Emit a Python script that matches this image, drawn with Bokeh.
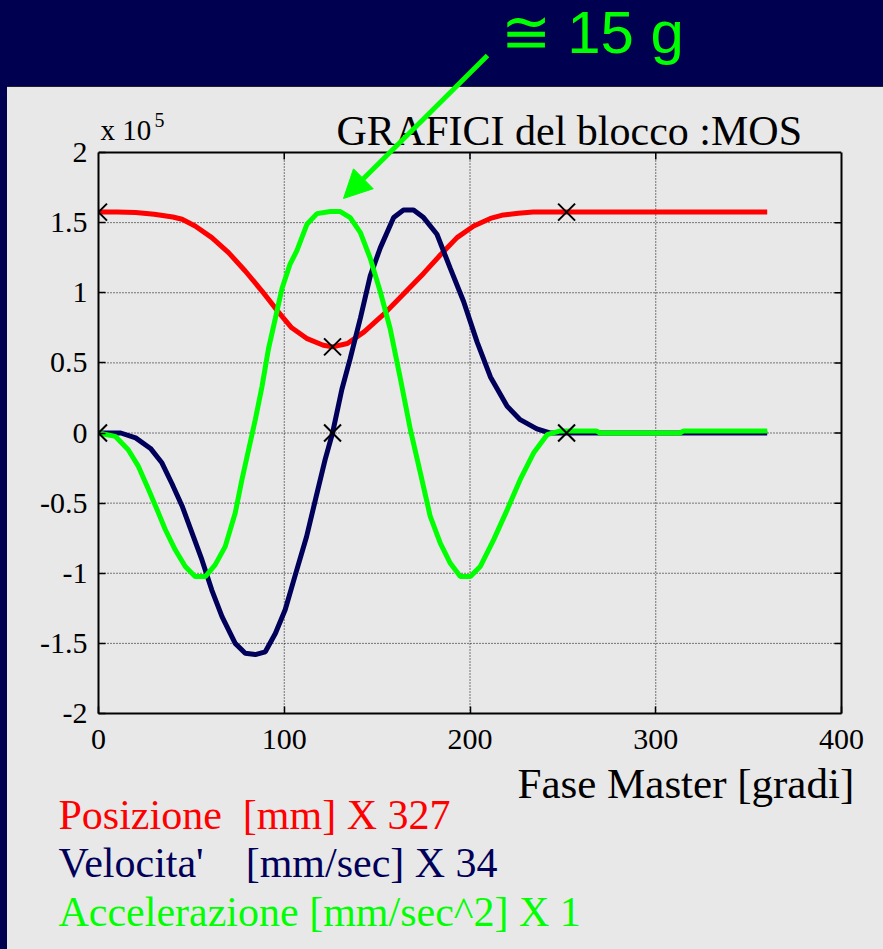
from bokeh.plotting import figure
from bokeh.models import (Range1d, LinearAxis, FixedTicker, Label, Arrow, NormalHead,
                          Title, GlobalInlineStyleSheet)
from bokeh.embed import file_html
from bokeh.resources import INLINE

# ---------------- data (values in units of 10^5) ----------------
pos_deg = [0, 10, 20, 30, 40, 45, 52, 61, 70, 79, 88, 97, 104, 112, 121, 126, 134, 143,
           153, 162, 175, 184, 193, 202, 211, 218, 226, 234, 245, 252, 300, 360]
pos_val = [1.575, 1.575, 1.572, 1.560, 1.540, 1.524, 1.476, 1.393, 1.286, 1.155, 1.012,
           0.860, 0.750, 0.675, 0.626, 0.614, 0.638, 0.721, 0.840, 0.960, 1.138, 1.269,
           1.393, 1.476, 1.530, 1.555, 1.567, 1.575, 1.575, 1.575, 1.575, 1.575]

vel_deg = [0, 12, 20, 28, 34, 39.5, 45, 50.3, 55.7, 61, 66.5, 73.6, 79, 84.4, 89.8, 95.2,
           100.5, 106, 112, 117.6, 122, 126, 131, 135.5, 141, 146.3, 151.7, 158.9, 164.2,
           169.6, 175, 182.2, 189.4, 196.6, 203.8, 211, 220, 227, 236, 243, 300, 360]
vel_val = [0, 0, -0.035, -0.11, -0.21, -0.36, -0.52, -0.71, -0.905, -1.12, -1.31, -1.50,
           -1.57, -1.58, -1.56, -1.43, -1.26, -1.01, -0.74, -0.43, -0.19, 0.0, 0.31, 0.53,
           0.82, 1.12, 1.32, 1.536, 1.59, 1.59, 1.536, 1.417, 1.174, 0.936, 0.65, 0.40,
           0.19, 0.095, 0.029, 0.0, 0.0, 0.0]

acc_deg = [0, 9, 16, 21.5, 27, 32.3, 36, 41.3, 46.7, 52, 57.5, 62.8, 68.2, 73.6, 77.2,
           80.8, 84.4, 88, 91.5, 95.2, 98.8, 103, 106.8, 112.2, 117.6, 124.8, 130.2, 135.5,
           141, 146.3, 151.7, 157, 162.5, 167.9, 173.3, 178.6, 184, 189.4, 194.8, 200.2,
           205.5, 212.7, 220, 227, 234.2, 241.5, 248.6, 268, 270, 313, 315, 360]
acc_val = [0, -0.024, -0.119, -0.238, -0.405, -0.571, -0.69, -0.833, -0.952, -1.024,
           -1.024, -0.94, -0.81, -0.571, -0.333, -0.119, 0.095, 0.33, 0.6, 0.817, 1.03,
           1.20, 1.30, 1.488, 1.564, 1.579, 1.579, 1.536, 1.429, 1.245, 1.007, 0.745,
           0.388, 0.024, -0.286, -0.595, -0.786, -0.929, -1.024, -1.024, -0.952, -0.762,
           -0.548, -0.333, -0.143, -0.012, 0.015, 0.015, 0.0, 0.0, 0.015, 0.015]

marker_deg = [0, 126, 252]
pos_marker = [1.575, 0.614, 1.575]
vel_marker = [0, 0, 0]

x_ticks = [0, 100, 200, 300, 400]
y_ticks = [-2, -1.5, -1, -0.5, 0, 0.5, 1, 1.5, 2]
y_tick_labels = ["-2", "-1.5", "-1", "-0.5", "0", "0.5", "1", "1.5", "2"]

title_text = "GRAFICI del blocco :MOS"
xlabel_text = "Fase Master [gradi]"
exp_base, exp_power = "x 10", "5"
note_text = "\u2245 15 g"
NB = "\u00a0"
legend_lines = ["Posizione" + NB * 2 + "[mm] X 327",
                "Velocita'" + NB * 4 + "[mm/sec] X 34",
                "Accelerazione" + NB + "[mm/sec^2] X 1"]

# ---------------- style ----------------
NAVY_BG = "#000050"
PANEL = "#e8e8e8"
RED = "#ff0000"
NAVY = "#00005a"
GREEN = "#00ff00"
SERIF = "Liberation Serif"
SANS = "Liberation Sans"

W, H = 883, 949
FRAME_L, FRAME_R, FRAME_B = 98, 841, 713          # page pixels of the plot box
PX_X = (FRAME_R - FRAME_L) / (x_ticks[-1] - x_ticks[0])
PX_Y = 140.25
y_top = y_ticks[0] + FRAME_B / PX_Y               # frame reaches the top of the page

bg_css = GlobalInlineStyleSheet(css=(
    "html, body { margin: 0; padding: 0; }"
    " body { background-color: %s;"
    " background-image: linear-gradient(to right, %s 7px, transparent 7px),"
    " linear-gradient(to bottom, %s 86px, #202030 86px, #202030 87px, %s 87px);"
    " background-repeat: no-repeat; background-size: 100%% 100%%; min-height: 100vh; }"
    % (PANEL, NAVY_BG, NAVY_BG, PANEL)))

p = figure(width=W, height=H, x_range=Range1d(x_ticks[0], x_ticks[-1]),
           y_range=Range1d(y_ticks[0], y_top),
           output_backend="svg", toolbar_location=None,
           min_border_left=FRAME_L, min_border_right=W - FRAME_R, min_border_top=0,
           min_border_bottom=H - FRAME_B,
           background_fill_color=None, border_fill_color=None,
           outline_line_color=None, stylesheets=[bg_css])
p.xgrid.visible = False
p.ygrid.visible = False

def dx(px):
    return x_ticks[0] + (px - FRAME_L) / PX_X

def dy(py):
    return y_ticks[0] + (FRAME_B - py) / PX_Y

# axes
p.xaxis.ticker = FixedTicker(ticks=x_ticks)
p.yaxis.ticker = FixedTicker(ticks=y_ticks)
p.yaxis.bounds = (y_ticks[0], y_ticks[-1])
p.yaxis.major_label_overrides = {float(t): l for t, l in zip(y_ticks, y_tick_labels)}
for ax in (p.xaxis[0], p.yaxis[0]):
    ax.axis_line_color = "black"
    ax.axis_line_width = 2
    ax.major_tick_in = 7
    ax.major_tick_out = 0
    ax.major_tick_line_color = "black"
    ax.major_tick_line_width = 1.5
    ax.minor_tick_line_color = None
    ax.major_label_text_font = SERIF
    ax.major_label_text_font_size = "30px"
    ax.major_label_text_color = "black"
p.xaxis.major_label_standoff = 16
p.yaxis.major_label_standoff = 11

right_ax = LinearAxis(ticker=FixedTicker(ticks=[]), bounds=(y_ticks[0], y_ticks[-1]),
                      axis_line_color="black", axis_line_width=2,
                      major_tick_line_color=None, minor_tick_line_color=None)
p.add_layout(right_ax, "right")

# dotted grid, box top and inward ticks on top/right, derived from the tick lists
inner_x = x_ticks[1:-1]
inner_y = y_ticks[1:-1]
p.segment(x0=inner_x, y0=[y_ticks[0]] * len(inner_x), x1=inner_x, y1=[y_ticks[-1]] * len(inner_x),
          line_color="black", line_width=1, line_dash="1 2")
p.segment(x0=[x_ticks[0]] * len(inner_y), y0=inner_y, x1=[x_ticks[-1]] * len(inner_y), y1=inner_y,
          line_color="black", line_width=1, line_dash="1 2")
p.segment(x0=[x_ticks[0]], y0=[y_ticks[-1]], x1=[x_ticks[-1]], y1=[y_ticks[-1]],
          line_color="black", line_width=2)
TICK = 7
p.segment(x0=inner_x, y0=[y_ticks[-1]] * len(inner_x), x1=inner_x,
          y1=[y_ticks[-1] - TICK / PX_Y] * len(inner_x), line_color="black", line_width=1.5)
p.segment(x0=[x_ticks[-1]] * len(inner_y), y0=inner_y,
          x1=[x_ticks[-1] - TICK / PX_X] * len(inner_y), y1=inner_y,
          line_color="black", line_width=1.5)

# curves
p.line(pos_deg, pos_val, line_color=RED, line_width=5)
p.line(vel_deg, vel_val, line_color=NAVY, line_width=5)
p.line(acc_deg, acc_val, line_color=GREEN, line_width=5)
p.scatter(marker_deg, pos_marker, marker="x", size=24, line_color="black", line_width=2)
p.scatter(marker_deg, vel_marker, marker="x", size=24, line_color="black", line_width=2)

# texts inside the (extended) frame
def lab(text, px, py, size, color="black", font=SERIF):
    p.add_layout(Label(x=dx(px), y=dy(py), text=text, text_font=font,
                       text_font_size=size, text_color=color, text_align="left",
                       text_baseline="alphabetic"))

lab(title_text, 336, 130.5, "42px")
lab(exp_base, 100, 129.7, "29px")
lab(exp_power, 154, 119.3, "20px")
lab(note_text, 500, 32, "60px", GREEN, SANS)

p.add_layout(Arrow(end=NormalHead(size=28, fill_color=GREEN, line_color=GREEN),
                   x_start=dx(487), y_start=dy(55), x_end=dx(343), y_end=dy(198),
                   line_color=GREEN, line_width=5))

# texts below the plot box (stacked titles; standoffs tune the line spacing)
p.add_layout(Title(text=xlabel_text, text_font=SERIF, text_font_size="43px",
                   text_font_style="normal", text_color="black", align="left",
                   offset=519 - FRAME_L - 2, standoff=11.5), "below")
for line, c, so in zip(legend_lines, [RED, NAVY, GREEN], [-46.5, 46.5, -46.5]):
    p.add_layout(Title(text=line, text_font=SERIF, text_font_size="42px",
                       text_font_style="normal", text_color=c, align="left",
                       offset=60 - FRAME_L - 2, standoff=so), "below")

open("out.html", "w").write(file_html(p, INLINE))
